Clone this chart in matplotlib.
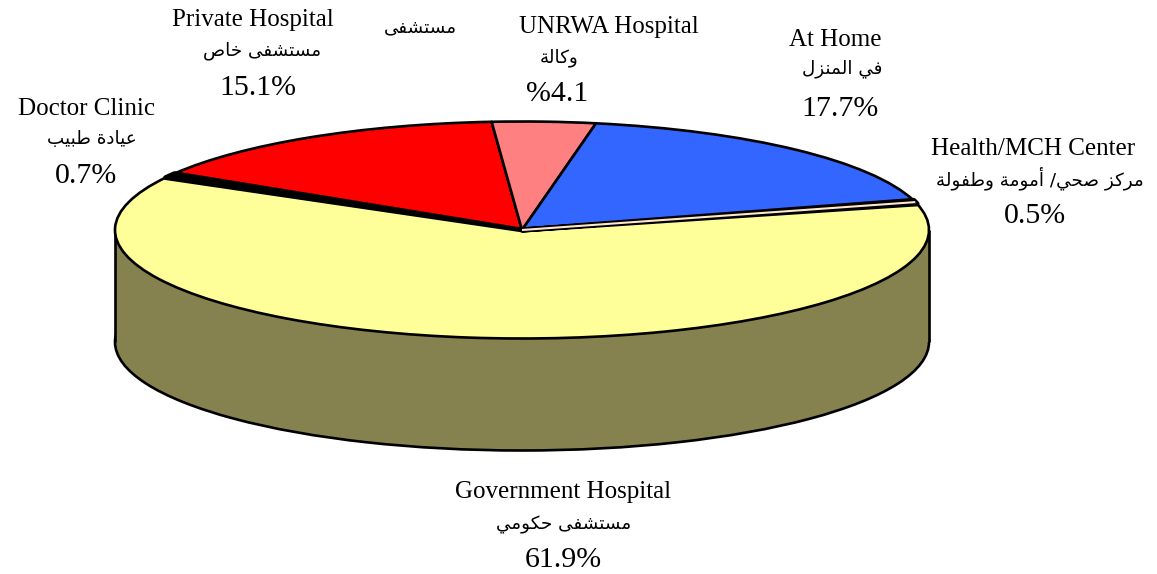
# plot.py
import math
import matplotlib
matplotlib.use("Agg")
import matplotlib.pyplot as plt
from matplotlib.patches import Rectangle

W, H = 1157, 574

categories = ["Government Hospital", "Doctor Clinic", "Private Hospital",
              "UNRWA Hospital", "At Home", "Health/MCH Center"]
arabic = ["مستشفى حكومي", "عيادة طبيب", "مستشفى خاص",
          "وكالة", "في المنزل", "مركز صحي/ أمومة وطفولة"]
values = [61.9, 0.7, 15.1, 4.1, 17.7, 0.5]
value_labels = ["61.9%", "0.7%", "15.1%", "%4.1", "17.7%", "0.5%"]
colors = ["#FFFF99", "#000000", "#FF0000", "#FF8080", "#3366FF", "#FFE8CC"]
side_color = "#85824F"

# label centres in pixels: english x,y / arabic x,y / value x,y
label_pos = [
    (563, 492, 564, 525, 563, 560),
    (86, 109, 92, 139, 86, 176),
    (253, 20, 262, 51, 258, 88),
    (609, 27, 559, 58, 557, 94),
    (835, 40, 842, 69, 840, 109),
    (1033, 149, 1040, 178, 1035, 216),
]

# first code point of the presentation forms: (isolated, final, initial, medial)
DUAL = {"ب": 0xFE8F, "ت": 0xFE95, "ح": 0xFEA1, "خ": 0xFEA5, "س": 0xFEB1, "ش": 0xFEB5,
        "ص": 0xFEB9, "ط": 0xFEC1, "ع": 0xFEC9, "ف": 0xFED1, "ك": 0xFED9, "ل": 0xFEDD,
        "م": 0xFEE1, "ن": 0xFEE5, "ي": 0xFEF1}
RIGHT = {"ا": 0xFE8D, "أ": 0xFE83, "ة": 0xFE93, "د": 0xFEA9, "ر": 0xFEAD, "ز": 0xFEAF,
         "و": 0xFEED, "ى": 0xFEEF}


def shape(txt):
    # matplotlib does no arabic shaping, so pick the joined forms and reverse
    out = []
    for i, c in enumerate(txt):
        prev = txt[i - 1] if i > 0 else ""
        nxt = txt[i + 1] if i < len(txt) - 1 else ""
        joins_prev = prev in DUAL
        joins_next = c in DUAL and (nxt in DUAL or nxt in RIGHT)
        if c in RIGHT:
            out.append(chr(RIGHT[c] + (1 if joins_prev else 0)))
        elif c in DUAL:
            if joins_prev and joins_next:
                off = 3
            elif joins_next:
                off = 2
            elif joins_prev:
                off = 1
            else:
                off = 0
            out.append(chr(DUAL[c] + off))
        else:
            out.append(c)
    return "".join(reversed(out))


def put(fig, x, y, txt, size, family):
    fig.text(x / W, 1 - y / H, txt, ha="center", va="center", fontsize=size,
             family=family, color="black")


fig = plt.figure(figsize=(W / 100, H / 100), dpi=100)
ax = fig.add_axes([0, 0, 1, 1])

cx, cy, rx, ry = 522, 230, 407, 108.5
depth = 112 / ry
start = 14
edge = {"edgecolor": "black", "linewidth": 1.9}

# side of the disc: lower pie plus a band up to the top face
ax.pie([1], colors=[side_color], center=(0, -depth), wedgeprops=edge, startangle=0)
ax.add_patch(Rectangle((-1, -depth), 2, depth, facecolor=side_color, edgecolor="none", zorder=1.5))
ax.plot([-1, -1], [-depth, 0], color="black", lw=1.9, zorder=1.6, solid_capstyle="butt")
ax.plot([1, 1], [-depth, 0], color="black", lw=1.9, zorder=1.6, solid_capstyle="butt")

wedges, _ = ax.pie(values, colors=colors, startangle=start, counterclock=False,
                   wedgeprops=edge)
for w in wedges:
    w.set_zorder(2)
    w.set_joinstyle("round")

# the two thin slices read as thick strips in the original
wedges[1].set_linewidth(3.4)
wedges[1].set_zorder(2.5)
wedges[5].set_linewidth(3.8)
wedges[5].set_zorder(2.5)
mid = math.radians(start + values[5] / 100 * 360 / 2)
ax.plot([0, math.cos(mid)], [0, math.sin(mid)], color=colors[5], lw=1.5, zorder=2.6,
        solid_capstyle="butt")

ax.set_aspect("auto")
ax.set_xlim(-cx / rx, (W - cx) / rx)
ax.set_ylim(-(H - cy) / ry, cy / ry)
ax.axis("off")

for name, ar, val, pos in zip(categories, arabic, value_labels, label_pos):
    put(fig, pos[0], pos[1], name, 18, "Liberation Serif")
    put(fig, pos[2], pos[3], shape(ar), 13.2, "DejaVu Sans")
    put(fig, pos[4], pos[5], val, 21.5, "Liberation Serif")
put(fig, 420, 27, shape("مستشفى"), 13.2, "DejaVu Sans")

fig.savefig("out.png", dpi=100, facecolor="white")
